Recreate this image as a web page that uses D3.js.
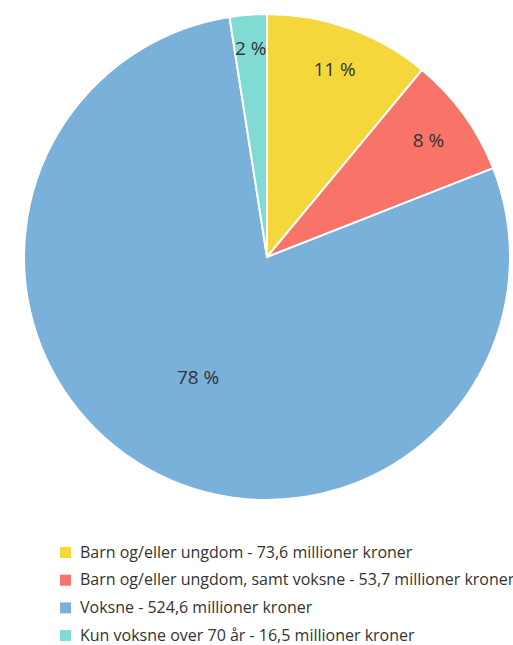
<!DOCTYPE html>
<html>
<head>
<script src="https://cdn.jsdelivr.net/npm/d3@7"></script>
<meta charset="utf-8">
<style>
  body { margin: 0; background: #fff; }
  text { font-family: "Open Sans", sans-serif; fill: #333; }
</style>
</head>
<body>
<script>
var categories = ["Barn og/eller ungdom", "Barn og/eller ungdom, samt voksne", "Voksne", "Kun voksne over 70 år"];
var values = [73.6, 53.7, 524.6, 16.5];
var valueLabels = ["73,6", "53,7", "524,6", "16,5"];
var colors = ["#f6d73b", "#f87468", "#7ab1db", "#7fdbd4"];

var width = 513, height = 645;
var cx = 267, cy = 257, radius = 243;

var svg = d3.select("body").append("svg")
  .attr("width", width)
  .attr("height", height);

var total = d3.sum(values);
var data = values.map(function(v, i) {
  return {name: categories[i], value: v, label: valueLabels[i], color: colors[i]};
});

var pie = d3.pie().sort(null).value(function(d) { return d.value; });
var arc = d3.arc().innerRadius(0).outerRadius(radius);

var g = svg.append("g").attr("transform", "translate(" + cx + "," + cy + ")");

g.selectAll("path").data(pie(data)).enter().append("path")
  .attr("d", arc)
  .attr("fill", function(d) { return d.data.color; })
  .attr("stroke", "#fff")
  .attr("stroke-width", 2);

// labels sit near the rim, except the big slice which gets pulled inwards
g.selectAll("text.pct").data(pie(data)).enter().append("text")
  .attr("class", "pct")
  .attr("transform", function(d) {
    var share = d.data.value / total;
    var r = share > 0.5 ? radius * 0.57 : (share < 0.05 ? radius * 0.86 : radius * 0.82);
    var a = (d.startAngle + d.endAngle) / 2;
    return "translate(" + (Math.sin(a) * r) + "," + (-Math.cos(a) * r) + ")";
  })
  .attr("text-anchor", "middle")
  .attr("dy", "0.35em")
  .style("font-size", "19px")
  .text(function(d) { return Math.round(d.data.value / total * 100) + " %"; });

var legend = svg.append("g").attr("transform", "translate(60,552)");
var rows = legend.selectAll("g").data(data).enter().append("g")
  .attr("transform", function(d, i) { return "translate(0," + (i * 27.7) + ")"; });

rows.append("rect")
  .attr("x", 0).attr("y", -5)
  .attr("width", 11).attr("height", 11)
  .attr("fill", function(d) { return d.color; });

rows.append("text")
  .attr("x", 20)
  .attr("dy", "0.35em")
  .style("font-size", "16px")
  .text(function(d) { return d.name + " - " + d.label + " millioner kroner"; });
</script>
</body>
</html>
